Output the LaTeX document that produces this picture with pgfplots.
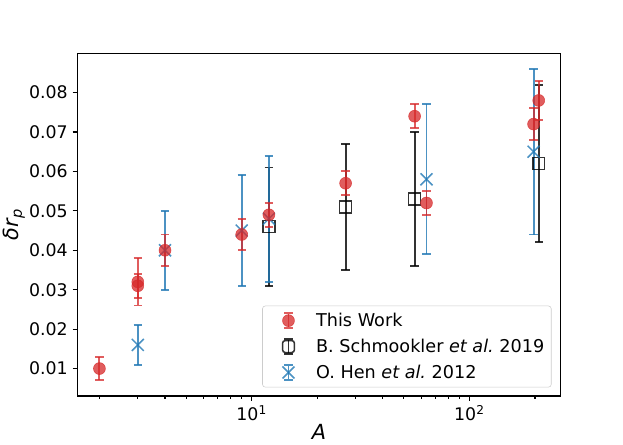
\documentclass[border=0pt]{standalone}
\usepackage{fontspec}
\setmainfont{DejaVu Sans}
\usepackage{pgfplots}
\usepackage{pgfplotstable}
\pgfplotsset{compat=1.18}
\definecolor{tabred}{HTML}{D62728}
\definecolor{tabblue}{HTML}{1F77B4}

\pgfplotstableread{
A v e
2 0.010 0.003
3 0.032 0.006
3 0.031 0.003
4 0.040 0.004
9 0.044 0.004
12 0.049 0.003
27 0.057 0.003
56 0.074 0.003
63.5 0.052 0.003
197 0.072 0.004
208 0.078 0.005
}\thiswork

\pgfplotstableread{
A v e
12 0.046 0.015
27 0.051 0.016
56 0.053 0.017
208 0.062 0.020
}\schmookler

\pgfplotstableread{
A v e
3 0.016 0.005
4 0.040 0.010
9 0.045 0.014
12 0.048 0.016
63.5 0.058 0.019
197 0.065 0.021
}\hen

\newcommand{\legbar}[1]{\draw[#1, line width=1.4pt] (15.7pt,-5.6pt)--(15.7pt,5.6pt) (12.7pt,-5.6pt)--(18.7pt,-5.6pt) (12.7pt,5.6pt)--(18.7pt,5.6pt);
  \path[draw=none, fill=none] (0pt,0pt)--(33.6pt,0pt);}

\begin{document}
\begin{tikzpicture}
\path[use as bounding box] (0,0) rectangle (448.56pt,320.4pt);
\begin{axis}[
  at={(55.8pt,35.3pt)}, anchor=south west,
  scale only axis, width=347.9pt, height=246.7pt,
  xmode=log, log basis x=10,
  xmin=1.586, xmax=262.4,
  ymin=0.00305, ymax=0.08995,
  xtick={10,100}, xticklabels={10\textsuperscript{1},10\textsuperscript{2}},
  minor xtick={2,3,4,5,6,7,8,9,20,30,40,50,60,70,80,90,200},
  ytick={0.01,0.02,0.03,0.04,0.05,0.06,0.07,0.08},
  scaled y ticks=false,
  yticklabel style={/pgf/number format/.cd, fixed, fixed zerofill, precision=2, assume math mode=true},
  tick pos=left, tick align=outside,
  major tick length=3.5pt, minor tick length=2pt,
  every tick/.style={black, line width=0.8pt},
  axis line style={line width=0.8pt},
  tick label style={font=\fontsize{12.5}{14}\selectfont},
  xlabel={\itshape A},
  ylabel={\itshape δr\textsubscript{p}},
  label style={font=\fontsize{15}{18}\selectfont},
  xlabel style={at={(axis description cs:0.5,0)}, anchor=center, yshift=-25.9pt},
  ylabel style={at={(axis description cs:-0.131,0.5)}, anchor=center},
  legend style={at={(0.981,0.025)}, anchor=south east, draw=black!20, rounded corners=2pt,
    font=\fontsize{12.7}{14}\selectfont, row sep=3.5pt, inner xsep=3pt, inner ysep=3pt},
  legend cell align=left,
]
\addlegendimage{legend image code/.code={\legbar{tabred, opacity=0.75}\fill[tabred, opacity=0.75] (15.7pt,0pt) circle (4.3pt);}}
\addlegendentry{This Work}
\addlegendimage{legend image code/.code={\legbar{black, opacity=0.8}\draw[black, opacity=0.8, line width=1.1pt] (11.4pt,-4.3pt) rectangle (20pt,4.3pt);}}
\addlegendentry{B. Schmookler \textit{et al.}\ 2019}
\addlegendimage{legend image code/.code={\legbar{tabblue, opacity=0.8}\draw[tabblue, opacity=0.8, line width=1.1pt] (11.4pt,-4.3pt)--(20pt,4.3pt) (11.4pt,4.3pt)--(20pt,-4.3pt);}}
\addlegendentry{O. Hen \textit{et al.}\ 2012}

\addplot[forget plot, only marks, mark=square, mark size=4.3pt, mark options={draw=black, line width=1.1pt}, color=black, opacity=0.8,
  error bars/.cd, y dir=both, y explicit,
  error bar style={line width=1.4pt, black},
  error mark options={rotate=90, mark size=3pt, line width=1.4pt, black},
  ] table[x=A, y=v, y error=e] {\schmookler};
\addplot[forget plot, only marks, mark=x, mark size=6.1pt, mark options={line width=1.1pt}, color=tabblue, opacity=0.8,
  error bars/.cd, y dir=both, y explicit,
  error bar style={line width=1.4pt, tabblue},
  error mark options={rotate=90, mark size=3pt, line width=1.4pt, tabblue},
  ] table[x=A, y=v, y error=e] {\hen};
\addplot[forget plot, only marks, mark=*, mark size=4.3pt, color=tabred, opacity=0.75,
  error bars/.cd, y dir=both, y explicit,
  error bar style={line width=1.4pt, tabred},
  error mark options={rotate=90, mark size=3pt, line width=1.4pt, tabred},
  ] table[x=A, y=v, y error=e] {\thiswork};
\end{axis}
\end{tikzpicture}
\end{document}
